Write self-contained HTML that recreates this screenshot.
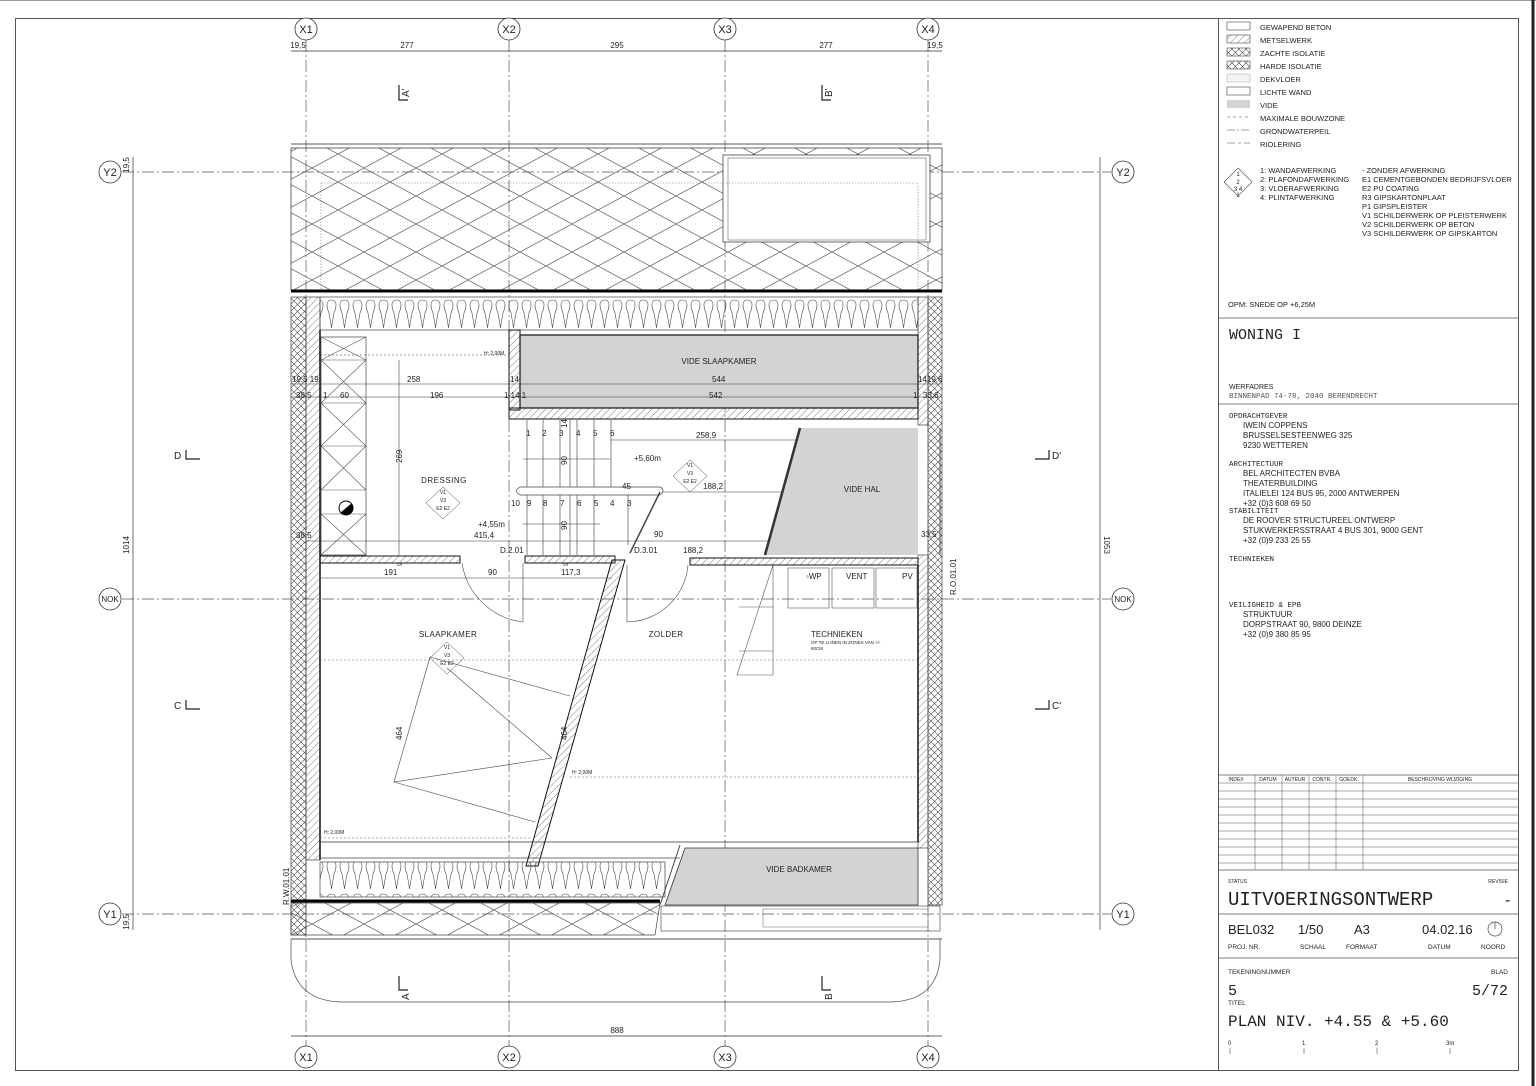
<!DOCTYPE html>
<html><head><meta charset="utf-8"><style>
html,body{margin:0;padding:0;background:#fff}
svg{display:block}
text{font-family:"Liberation Sans",sans-serif;fill:#222}
.m{font-family:"Liberation Mono",monospace}
</style></head><body>
<svg width="1536" height="1086" viewBox="0 0 1536 1086" xmlns="http://www.w3.org/2000/svg">
<defs>
<pattern id="dia" width="52" height="28" patternUnits="userSpaceOnUse">
<path d="M0 0L52 28M52 0L0 28" stroke="#555" stroke-width="0.7" fill="none"/>
</pattern>
<pattern id="xs" width="7" height="7" patternUnits="userSpaceOnUse">
<path d="M0 0L7 7M7 0L0 7" stroke="#444" stroke-width="0.6" fill="none"/>
</pattern>
<pattern id="hat" width="5" height="5" patternUnits="userSpaceOnUse" patternTransform="rotate(45)">
<path d="M0 0V5" stroke="#444" stroke-width="0.7"/>
</pattern>
<pattern id="ins" width="13" height="33" patternUnits="userSpaceOnUse">
<path d="M6.5 3C1 3 1 9 4 16C5 22 6 27 6.5 31C7 27 8 22 9 16C12 9 12 3 6.5 3Z" fill="none" stroke="#444" stroke-width="0.6"/>
</pattern>
</defs>
<rect width="1536" height="1086" fill="#fff"/>
<line x1="0" y1="0.5" x2="1536" y2="0.5" stroke="#999"/>
<rect x="15.5" y="18.5" width="1503" height="1052" fill="none" stroke="#555"/>
<line x1="1218.5" y1="18" x2="1218.5" y2="1071" stroke="#555"/>
<line x1="1533" y1="0" x2="1533" y2="1086" stroke="#222" stroke-width="3"/>

<g stroke="#555" stroke-width="0.7" stroke-dasharray="12 3 2 3" fill="none">
<line x1="306" y1="40" x2="306" y2="1046"/><line x1="509" y1="40" x2="509" y2="1046"/>
<line x1="725" y1="40" x2="725" y2="1046"/><line x1="928" y1="40" x2="928" y2="1046"/>
<line x1="122" y1="172" x2="1111" y2="172"/><line x1="122" y1="599" x2="1111" y2="599"/>
<line x1="122" y1="914" x2="1111" y2="914"/>
</g>
<g fill="#fff" stroke="#333" stroke-width="0.8" font-size="11">
<circle cx="306" cy="29" r="11"/><circle cx="509" cy="29" r="11"/><circle cx="725" cy="29" r="11"/><circle cx="928" cy="29" r="11"/>
<circle cx="306" cy="1057" r="11"/><circle cx="509" cy="1057" r="11"/><circle cx="725" cy="1057" r="11"/><circle cx="928" cy="1057" r="11"/>
<circle cx="110" cy="172" r="11"/><circle cx="110" cy="599" r="11"/><circle cx="110" cy="914" r="11"/>
<circle cx="1123" cy="172" r="11"/><circle cx="1123" cy="599" r="11"/><circle cx="1123" cy="914" r="11"/>
</g>
<g font-size="11" text-anchor="middle">
<text x="306" y="33">X1</text><text x="509" y="33">X2</text><text x="725" y="33">X3</text><text x="928" y="33">X4</text>
<text x="306" y="1061">X1</text><text x="509" y="1061">X2</text><text x="725" y="1061">X3</text><text x="928" y="1061">X4</text>
<text x="110" y="176">Y2</text><text x="110" y="602" font-size="8">NOK</text><text x="110" y="918">Y1</text>
<text x="1123" y="176">Y2</text><text x="1123" y="602" font-size="8">NOK</text><text x="1123" y="918">Y1</text>
</g>
<g stroke="#333" stroke-width="0.7">
<line x1="291" y1="51" x2="942" y2="51"/>
<line x1="291" y1="1036" x2="942" y2="1036"/>
<line x1="133" y1="157" x2="133" y2="930"/>
<line x1="1100" y1="157" x2="1100" y2="930"/>
</g>
<g font-size="8" text-anchor="middle">
<text x="298" y="48">19,5</text><text x="407" y="48">277</text><text x="617" y="48">295</text><text x="826" y="48">277</text><text x="935" y="48">19,5</text>
<text x="617" y="1033">888</text>
<text transform="translate(129,545) rotate(-90)">1014</text>
<text transform="translate(1104,545) rotate(90)">1053</text>
<text transform="translate(129,165) rotate(-90)">19,5</text>
<text transform="translate(129,922) rotate(-90)">19,5</text>
</g>
<g stroke="#222" stroke-width="1.2" fill="none">
<path d="M399 85V100H408"/><path d="M822 85V100H831"/>
<path d="M399 976V990H408"/><path d="M822 976V990H831"/>
<path d="M186 450V459H200"/><path d="M1035 459H1049V450"/>
<path d="M186 700V709H200"/><path d="M1035 709H1049V700"/>
</g>
<g font-size="10">
<text transform="translate(409,97) rotate(-90)">A'</text><text transform="translate(832,97) rotate(-90)">B'</text>
<text transform="translate(409,1000) rotate(-90)">A</text><text transform="translate(832,1000) rotate(-90)">B</text>
<text x="174" y="459">D</text><text x="1052" y="459">D'</text>
<text x="174" y="709">C</text><text x="1052" y="709">C'</text>
</g>

<rect x="291" y="148" width="651" height="142" fill="url(#dia)" stroke="#444" stroke-width="0.8"/>
<rect x="723" y="155" width="207" height="87" fill="#fff" stroke="#444" stroke-width="0.8"/>
<rect x="728" y="158" width="198" height="82" fill="none" stroke="#666" stroke-width="0.6"/>
<line x1="291" y1="144" x2="942" y2="144" stroke="#555"/>
<rect x="321" y="183" width="597" height="107" fill="none" stroke="#777" stroke-width="0.6" stroke-dasharray="1.5 1.5"/>
<line x1="291" y1="291" x2="942" y2="291" stroke="#000" stroke-width="3"/>
<rect x="320" y="297" width="598" height="33" fill="url(#ins)" stroke="#444" stroke-width="0.7"/>
<rect x="291" y="297" width="15" height="638" fill="url(#xs)" stroke="#444" stroke-width="0.7"/>
<rect x="306" y="297" width="14" height="563" fill="url(#hat)" stroke="#444" stroke-width="0.7"/>
<rect x="928" y="297" width="14" height="608" fill="url(#xs)" stroke="#444" stroke-width="0.7"/>
<rect x="918" y="297" width="10" height="128" fill="url(#hat)" stroke="#444" stroke-width="0.7"/>
<rect x="918" y="555" width="10" height="293" fill="url(#hat)" stroke="#444" stroke-width="0.7"/>
<line x1="320" y1="330" x2="320" y2="860" stroke="#111" stroke-width="1.5"/>
<line x1="918" y1="565" x2="918" y2="842" stroke="#111" stroke-width="1.5"/>
<line x1="320" y1="842" x2="918" y2="842" stroke="#333" stroke-width="0.8"/>

<rect x="520" y="335" width="398" height="73" fill="#d4d2d3" stroke="#111" stroke-width="1.2"/>
<rect x="509" y="330" width="11" height="80" fill="url(#hat)" stroke="#111" stroke-width="1"/>
<rect x="509" y="408" width="409" height="11" fill="url(#hat)" stroke="#111" stroke-width="1"/>
<text x="719" y="364" font-size="8" text-anchor="middle">VIDE SLAAPKAMER</text>
<g stroke="#333" stroke-width="0.6"><line x1="291" y1="384" x2="942" y2="384"/><line x1="291" y1="397" x2="942" y2="397"/>
<line x1="320" y1="355" x2="509" y2="355" stroke-dasharray="2 2"/></g>
<g font-size="8">
<text x="292" y="382">19,5 19</text><text x="407" y="382">258</text><text x="510" y="382">14</text><text x="712" y="382">544</text><text x="918" y="382">1419,6</text>
<text x="296" y="398">38,5</text><text x="323" y="398">1</text><text x="340" y="398">60</text><text x="430" y="398">196</text><text x="504" y="398">1 14 1</text><text x="709" y="398">542</text><text x="913" y="398">1</text><text x="923" y="398">33,6</text>
<text x="484" y="355" font-size="5">H: 2,00M</text>
</g>
<rect x="321" y="337" width="45" height="218" fill="none" stroke="#444" stroke-width="0.7"/>
<path d="M321 337L366 360M366 337L321 360M321 360L366 403L321 446L366 490M366 360L321 403L366 446L321 490M321 490V514M321 514L366 555M366 514L321 555M321 360H366M321 403H366M321 446H366M321 490H366M321 514H366" stroke="#555" stroke-width="0.6" fill="none"/>
<circle cx="346" cy="508" r="7" fill="#fff" stroke="#000"/><path d="M339 508A7 7 0 0 0 353 508L339 508Z" fill="#000" transform="rotate(-40 346 508)"/>
<line x1="399" y1="360" x2="399" y2="555" stroke="#444" stroke-width="0.6"/>
<text transform="translate(402,463) rotate(-90)" font-size="8">269</text>
<text x="444" y="483" font-size="8" text-anchor="middle" letter-spacing="0.5">DRESSING</text>
<g fill="#fff" stroke="#444" stroke-width="0.5"><path d="M443 487L460 503L443 519L426 503Z"/><path d="M690 460L707 476L690 492L673 476Z"/><path d="M447 642L464 658L447 674L430 658Z"/></g>
<g font-size="5" text-anchor="middle"><text x="443" y="494">V1</text><text x="443" y="502">V3</text><text x="443" y="510">E2 E2</text>
<text x="690" y="467">V1</text><text x="690" y="475">V3</text><text x="690" y="483">E2 E2</text>
<text x="447" y="649">V1</text><text x="447" y="657">V3</text><text x="447" y="665">E2 E2</text></g>
<text x="478" y="527" font-size="8">+4,55m</text>
<text x="474" y="538" font-size="8">415,4</text>
<text x="296" y="538" font-size="8">38,5</text>
<line x1="306" y1="541" x2="918" y2="541" stroke="#333" stroke-width="0.6"/>

<g stroke="#333" stroke-width="0.6">
<line x1="527" y1="420" x2="527" y2="555"/><line x1="543" y1="420" x2="543" y2="555"/><line x1="560" y1="420" x2="560" y2="555"/><line x1="570" y1="420" x2="570" y2="555"/><line x1="577" y1="420" x2="577" y2="555"/><line x1="594" y1="420" x2="594" y2="555"/><line x1="611" y1="420" x2="611" y2="495"/><line x1="628" y1="495" x2="628" y2="545"/>
<line x1="523" y1="459" x2="610" y2="459"/><line x1="523" y1="524" x2="600" y2="524"/>
<line x1="611" y1="440" x2="800" y2="440"/><line x1="611" y1="492" x2="790" y2="492"/>
</g>
<path d="M520 487H660Q666 490 660 495H520Q513 491 520 487Z" fill="#fff" stroke="#444" stroke-width="0.7"/>
<path d="M660 492L630 553" stroke="#444" stroke-width="1.5"/>
<g font-size="8">
<text x="526" y="436">1</text><text x="542" y="436">2</text><text x="559" y="436">3</text><text x="576" y="436">4</text><text x="593" y="436">5</text><text x="610" y="436">6</text>
<text x="511" y="506">10</text><text x="527" y="506">9</text><text x="543" y="506">8</text><text x="560" y="506">7</text><text x="577" y="506">6</text><text x="594" y="506">5</text><text x="610" y="506">4</text><text x="627" y="506">3</text>
<text x="622" y="489">45</text><text x="634" y="461">+5,60m</text><text x="696" y="438">258,9</text><text x="703" y="489">188,2</text>
<text x="654" y="537">90</text><text x="794" y="537">310,6</text><text x="921" y="537">33,5</text>
<text x="500" y="553">D.2.01</text><text x="634" y="553">D.3.01</text><text x="683" y="553">188,2</text>
<text transform="translate(567,465) rotate(-90)">90</text><text transform="translate(567,530) rotate(-90)">90</text><text transform="translate(567,428) rotate(-90)">14</text>
</g>
<path d="M800 428H918V555H765Z" fill="#d4d2d3" stroke="none"/>
<path d="M800 428L765 555" stroke="#333" stroke-width="2.5"/>
<line x1="940" y1="428" x2="940" y2="555" stroke="#555"/>
<text x="862" y="492" font-size="8" text-anchor="middle">VIDE HAL</text>
<text transform="translate(956,595) rotate(-90)" font-size="8">R.O.01.01</text>

<rect x="320" y="556" width="140" height="7" fill="url(#hat)" stroke="#111" stroke-width="1"/>
<rect x="525" y="556" width="90" height="7" fill="url(#hat)" stroke="#111" stroke-width="1"/>
<rect x="690" y="558" width="228" height="7" fill="url(#hat)" stroke="#111" stroke-width="1"/>
<line x1="320" y1="578" x2="612" y2="578" stroke="#333" stroke-width="0.6"/>
<g font-size="8"><text x="384" y="575">191</text><text x="488" y="575">90</text><text x="561" y="575">117,3</text>
<text transform="translate(402,566) rotate(-90)" font-size="6">9</text><text transform="translate(568,566) rotate(-90)" font-size="6">9</text></g>
<path d="M462 563A70 70 0 0 0 523 622V563" fill="none" stroke="#444" stroke-width="0.6"/>
<path d="M688 565A62 62 0 0 1 627 622V565" fill="none" stroke="#444" stroke-width="0.6"/>
<path d="M612 560L625 560L538 866L526 866Z" fill="url(#hat)" stroke="#111" stroke-width="1"/>
<path d="M430 657L570 696M430 657L394 782L552 758M394 782L535 822M447 668L552 758" stroke="#444" stroke-width="0.6" fill="none"/>
<text x="448" y="637" font-size="8" text-anchor="middle" letter-spacing="0.4">SLAAPKAMER</text>
<text transform="translate(402,740) rotate(-90)" font-size="8">464</text>
<text transform="translate(567,740) rotate(-90)" font-size="8">464</text>
<g stroke="#666" stroke-width="0.6" stroke-dasharray="2 2"><line x1="320" y1="660" x2="918" y2="660"/><line x1="320" y1="838" x2="530" y2="838"/><line x1="570" y1="777" x2="918" y2="777"/></g>
<text x="324" y="834" font-size="5">H: 2,00M</text><text x="572" y="774" font-size="5">H: 2,00M</text>
<text x="666" y="637" font-size="8" text-anchor="middle" letter-spacing="0.4">ZOLDER</text>
<g fill="none" stroke="#555" stroke-width="0.6"><rect x="788" y="568" width="41" height="40"/><rect x="832" y="568" width="42" height="40"/><rect x="876" y="568" width="41" height="40"/>
<path d="M773 565L737 675H773V565M739 607H773M739 651H773" /></g>
<g font-size="8"><text x="806" y="579">◦WP</text><text x="846" y="579">VENT</text><text x="902" y="579">PV</text>
<text x="811" y="637">TECHNIEKEN</text><text x="811" y="644" font-size="4.5">OP TE LIJNEN IN ZONES VAN +/-</text><text x="811" y="650" font-size="4.5">60CM</text></g>

<rect x="320" y="862" width="345" height="35" fill="url(#ins)" stroke="#444" stroke-width="0.7"/>
<line x1="320" y1="858" x2="680" y2="858" stroke="#444" stroke-width="0.7"/>
<path d="M665 905L685 848H918V905Z" fill="#d4d2d3" stroke="#333" stroke-width="0.8"/>
<path d="M680 845L660 905" stroke="#444" stroke-width="1"/>
<text x="799" y="872" font-size="8" text-anchor="middle">VIDE BADKAMER</text>
<line x1="291" y1="901" x2="660" y2="901" stroke="#000" stroke-width="3"/>
<path d="M291 903H660L655 935H291Z" fill="url(#dia)" stroke="#444" stroke-width="0.7"/>
<rect x="661" y="906" width="279" height="25" fill="none" stroke="#555" stroke-width="0.7"/>
<rect x="763" y="909" width="165" height="18" fill="none" stroke="#666" stroke-width="0.5"/>
<line x1="291" y1="939" x2="942" y2="939" stroke="#555"/>
<path d="M291 939V960Q296 1000 340 1002H892Q936 1000 940 960V939" fill="none" stroke="#444" stroke-width="0.7"/>
<text transform="translate(289,905) rotate(-90)" font-size="8">R.W.01.01</text>

<g stroke="#444" stroke-width="0.6">
<rect x="1227" y="22" width="23" height="8" fill="#fff"/>
<rect x="1227" y="35" width="23" height="8" fill="url(#hat)"/>
<rect x="1227" y="48" width="23" height="8" fill="url(#xs)"/>
<rect x="1227" y="61" width="23" height="8" fill="url(#xs)"/>
<rect x="1227" y="74" width="23" height="8" fill="#f3f3f3" stroke="#bbb"/>
<rect x="1227" y="87" width="23" height="8" fill="#fff"/>
<rect x="1227" y="100" width="23" height="8" fill="#d4d2d3" stroke="none"/>
<line x1="1227" y1="117" x2="1250" y2="117" stroke-dasharray="3 3"/>
<line x1="1227" y1="130" x2="1250" y2="130" stroke-dasharray="8 2 2 2"/>
<line x1="1227" y1="143" x2="1250" y2="143" stroke-dasharray="8 3 3 3"/>
<path d="M1238 168L1252 182L1238 196L1224 182Z" fill="#fff"/>
</g>
<g font-size="7.5">
<text x="1260" y="30">GEWAPEND BETON</text><text x="1260" y="43">METSELWERK</text><text x="1260" y="56">ZACHTE ISOLATIE</text><text x="1260" y="69">HARDE ISOLATIE</text><text x="1260" y="82">DEKVLOER</text><text x="1260" y="95">LICHTE WAND</text><text x="1260" y="108">VIDE</text><text x="1260" y="121">MAXIMALE BOUWZONE</text><text x="1260" y="134">GRONDWATERPEIL</text><text x="1260" y="147">RIOLERING</text>
<text x="1260" y="173">1: WANDAFWERKING</text><text x="1260" y="182">2: PLAFONDAFWERKING</text><text x="1260" y="191">3: VLOERAFWERKING</text><text x="1260" y="200">4: PLINTAFWERKING</text>
<text x="1362" y="173">-   ZONDER AFWERKING</text><text x="1362" y="182">E1 CEMENTGEBONDEN BEDRIJFSVLOER</text><text x="1362" y="191">E2 PU COATING</text><text x="1362" y="200">R3 GIPSKARTONPLAAT</text><text x="1362" y="209">P1 GIPSPLEISTER</text><text x="1362" y="218">V1 SCHILDERWERK OP PLEISTERWERK</text><text x="1362" y="227">V2 SCHILDERWERK OP BETON</text><text x="1362" y="236">V3 SCHILDERWERK OP GIPSKARTON</text>
<text x="1228" y="307">OPM: SNEDE OP +6,25M</text>
</g>
<g font-size="6" text-anchor="middle"><text x="1238" y="176">1</text><text x="1238" y="184">2</text><text x="1238" y="191">3 4</text><text x="1238" y="197">1</text></g>

<g stroke="#555" stroke-width="0.8">
<line x1="1218" y1="318" x2="1518" y2="318"/><line x1="1218" y1="404" x2="1518" y2="404"/>
<line x1="1218" y1="775" x2="1518" y2="775"/><line x1="1218" y1="870" x2="1518" y2="870"/>
<line x1="1218" y1="914" x2="1518" y2="914"/><line x1="1218" y1="958" x2="1518" y2="958"/>
</g>
<g stroke="#555" stroke-width="0.5">
<line x1="1218" y1="783" x2="1518" y2="783"/><line x1="1218" y1="791" x2="1518" y2="791"/><line x1="1218" y1="799" x2="1518" y2="799"/><line x1="1218" y1="807" x2="1518" y2="807"/><line x1="1218" y1="815" x2="1518" y2="815"/><line x1="1218" y1="823" x2="1518" y2="823"/><line x1="1218" y1="831" x2="1518" y2="831"/><line x1="1218" y1="839" x2="1518" y2="839"/><line x1="1218" y1="847" x2="1518" y2="847"/><line x1="1218" y1="855" x2="1518" y2="855"/><line x1="1218" y1="863" x2="1518" y2="863"/>
<line x1="1255" y1="775" x2="1255" y2="870"/><line x1="1282" y1="775" x2="1282" y2="870"/><line x1="1309" y1="775" x2="1309" y2="870"/><line x1="1336" y1="775" x2="1336" y2="870"/><line x1="1363" y1="775" x2="1363" y2="870"/>
</g>
<g font-size="5" text-anchor="middle"><text x="1236" y="781">INDEX</text><text x="1268" y="781">DATUM</text><text x="1295" y="781">AUTEUR</text><text x="1322" y="781">CONTR.</text><text x="1349" y="781">GOEDK.</text><text x="1440" y="781">BESCHRIJVING WIJZIGING</text></g>
<text x="1229" y="339" class="m" font-size="15">WONING I</text>
<text x="1229" y="389" font-size="7">WERFADRES</text>
<text x="1229" y="398" class="m" font-size="7.5" style="fill:#555">BINNENPAD 74-78, 2040 BERENDRECHT</text>
<g class="m" font-size="7.5" style="fill:#555"><text x="1229" y="418" class="m">OPDRACHTGEVER</text><text x="1229" y="466" class="m">ARCHITECTUUR</text><text x="1229" y="513" class="m">STABILITEIT</text><text x="1229" y="561" class="m">TECHNIEKEN</text><text x="1229" y="607" class="m">VEILIGHEID &amp; EPB</text></g>
<g font-size="8"><text x="1243" y="428">IWEIN COPPENS</text><text x="1243" y="438">BRUSSELSESTEENWEG 325</text><text x="1243" y="448">9230 WETTEREN</text>
<text x="1243" y="476">BEL ARCHITECTEN BVBA</text><text x="1243" y="486">THEATERBUILDING</text><text x="1243" y="496">ITALIELEI 124 BUS 95, 2000 ANTWERPEN</text><text x="1243" y="506">+32 (0)3 608 69 50</text>
<text x="1243" y="523">DE ROOVER STRUCTUREEL ONTWERP</text><text x="1243" y="533">STUKWERKERSSTRAAT 4 BUS 301, 9000 GENT</text><text x="1243" y="543">+32 (0)9 233 25 55</text>
<text x="1243" y="617">STRUKTUUR</text><text x="1243" y="627">DORPSTRAAT 90, 9800 DEINZE</text><text x="1243" y="637">+32 (0)9 380 85 95</text></g>
<text x="1228" y="883" font-size="5">STATUS</text><text x="1508" y="883" font-size="5" text-anchor="end">REVISIE</text>
<text x="1228" y="905" class="m" font-size="19">UITVOERINGSONTWERP</text><text x="1505" y="905" font-size="16">-</text>
<g font-size="13"><text x="1228" y="934">BEL032</text><text x="1298" y="934">1/50</text><text x="1354" y="934">A3</text><text x="1422" y="934">04.02.16</text></g>
<circle cx="1495" cy="929" r="7" fill="none" stroke="#444" stroke-width="0.7"/><line x1="1495" y1="922" x2="1495" y2="929" stroke="#444" stroke-width="0.7"/>
<g font-size="6.5"><text x="1228" y="949">PROJ. NR.</text><text x="1300" y="949">SCHAAL</text><text x="1346" y="949">FORMAAT</text><text x="1428" y="949">DATUM</text><text x="1481" y="949">NOORD</text>
<text x="1228" y="974">TEKENINGNUMMER</text><text x="1508" y="974" text-anchor="end">BLAD</text><text x="1228" y="1005">TITEL</text></g>
<text x="1228" y="995" class="m" font-size="15">5</text><text x="1508" y="995" class="m" font-size="15" text-anchor="end">5/72</text>
<text x="1228" y="1026" class="m" font-size="16">PLAN NIV. +4.55 &amp; +5.60</text>
<g font-size="6"><text x="1228" y="1045">0</text><text x="1302" y="1045">1</text><text x="1375" y="1045">2</text><text x="1446" y="1045">3m</text></g>
<g stroke="#555" stroke-width="0.6"><line x1="1230" y1="1048" x2="1230" y2="1054"/><line x1="1304" y1="1048" x2="1304" y2="1054"/><line x1="1377" y1="1048" x2="1377" y2="1054"/><line x1="1450" y1="1048" x2="1450" y2="1054"/></g>
</svg>
</body></html>
